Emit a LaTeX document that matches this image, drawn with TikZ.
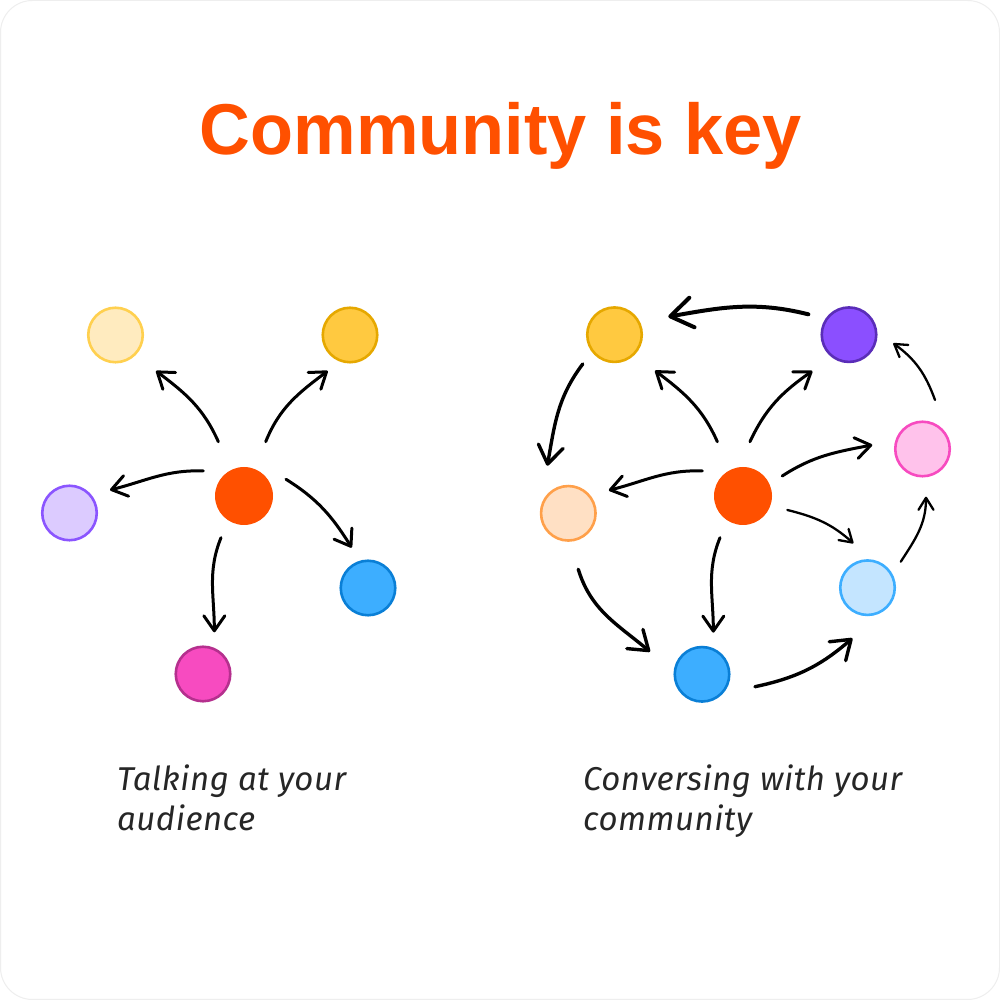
\documentclass[tikz,border=0pt]{standalone}
\usepackage{fontspec}
\setmainfont{Liberation Sans}
\newfontfamily\titlefont{Liberation Sans}
\newfontfamily\hand{Fira Sans}[LetterSpace=1.5]
\usetikzlibrary{arrows.meta,calc}
\definecolor{corange}{HTML}{FF5000}
\definecolor{lyF}{HTML}{FFEBBF}\definecolor{lyD}{HTML}{FFD04F}
\definecolor{yF}{HTML}{FFC940}\definecolor{yD}{HTML}{E6A800}
\definecolor{lvF}{HTML}{DCCBFF}\definecolor{lvD}{HTML}{8B55FF}
\definecolor{bF}{HTML}{3DAEFF}\definecolor{bD}{HTML}{0A7FD6}
\definecolor{mF}{HTML}{F74BC0}\definecolor{mD}{HTML}{B5308E}
\definecolor{pF}{HTML}{8B4FFF}\definecolor{pD}{HTML}{5A2DB8}
\definecolor{pkF}{HTML}{FFC2EB}\definecolor{pkD}{HTML}{F74BC0}
\definecolor{peF}{HTML}{FFE0C4}\definecolor{peD}{HTML}{FFA04A}
\definecolor{lbF}{HTML}{C4E5FF}\definecolor{lbD}{HTML}{3DAEFF}
\definecolor{frame}{HTML}{EEEEEE}
\begin{document}
\begin{tikzpicture}[x=1pt,y=1pt,
  dot/.style={circle,minimum size=54.5pt,inner sep=0pt,line width=2.6pt},
  hub/.style={circle,minimum size=58pt,inner sep=0pt,fill=corange},
  arr/.style={line width=3pt,line cap=round,-{Straight Barb[length=15pt,width=21pt,line cap=round,line join=round]}},
  bigarr/.style={line width=4pt,line cap=round,-{Straight Barb[length=22pt,width=30pt,line cap=round,line join=round]}},
  midarr/.style={line width=3.4pt,line cap=round,-{Straight Barb[length=18pt,width=25pt,line cap=round,line join=round]}},
  thinarr/.style={line width=2.3pt,line cap=round,-{Straight Barb[length=12pt,width=15pt,line cap=round,line join=round]}},
  lab/.style={anchor=north west,align=left,inner sep=0pt,font=\hand\itshape\fontsize{33}{40}\selectfont,text=black!85}
]
\useasboundingbox (0,0) rectangle (1000,1000);
\draw[frame,line width=1pt,fill=white,rounded corners=32pt] (0.5,0.5) rectangle (999.5,999.5);

\node[anchor=base,text=corange,font=\titlefont\bfseries\fontsize{72}{80}\selectfont] (title) at (501,845.5) {\scalebox{0.977}[1]{Community is key}};

% left diagram
\node[hub] (o1) at (244,504) {};
\node[dot,fill=lyF,draw=lyD] (ly) at (115.5,665) {};
\node[dot,fill=yF,draw=yD] (y1) at (350,665) {};
\node[dot,fill=lvF,draw=lvD] (lv) at (69.5,487) {};
\node[dot,fill=bF,draw=bD] (b1) at (368,412) {};
\node[dot,fill=mF,draw=mD] (m1) at (203,326) {};

\draw[arr] ($(o1)+(115.3:60)$) to[out=114,in=-37] ($(ly)+(-41.6:54.2)$);
\draw[arr] ($(o1)+(68.2:58.5)$) to[out=68,in=-143] ($(y1)+(-121.8:42.3)$);
\draw[arr] ($(o1)+(148.4:47.8)$) to[out=178,in=14] ($(lv)+(29.6:46.6)$);
\draw[arr] ($(o1)+(21.7:45.2)$) to[out=-32,in=122] ($(b1)+(112:43.5)$);
\draw[arr] ($(o1)+(-118.9:47.6)$) to[out=-112,in=90] ($(m1)+(74.8:43.2)$);

\node[lab] (lab1) at (117,235) {Talking at your\\audience};

% right diagram
\node[hub] (o2) at (743,504) {};
\node[dot,fill=yF,draw=yD] (y2) at (614.5,665.3) {};
\node[dot,fill=pF,draw=pD] (p2) at (849,665.3) {};
\node[dot,fill=pkF,draw=pkD] (pk) at (922.5,551) {};
\node[dot,fill=peF,draw=peD] (pe) at (568.3,486.7) {};
\node[dot,fill=lbF,draw=lbD] (lb) at (867.5,412.3) {};
\node[dot,fill=bF,draw=bD] (b2) at (702,325.7) {};

\draw[arr] ($(o2)+(115.3:60)$) to[out=114,in=-37] ($(y2)+(-41.6:54.2)$);
\draw[arr] ($(o2)+(82.7:54.7)$) to[out=65,in=-145] ($(p2)+(-135.3:51.6)$);
\draw[arr] ($(o2)+(148.4:47.8)$) to[out=178,in=14] ($(pe)+(29.6:46.6)$);
\draw[arr] ($(o2)+(27:44)$) to[out=33,in=-169] ($(pk)+(175.4:50.4)$);
\draw[thinarr] ($(o2)+(-17.5:46.5)$) to[out=-14,in=138] ($(lb)+(107.7:46.6)$);
\draw[arr] ($(o2)+(-118.9:47.6)$) to[out=-112,in=90] ($(b2)+(74.8:43.2)$);

\draw[bigarr] ($(p2)+(153.4:45.5)$) to[out=166,in=10] ($(y2)+(18.5:56.7)$);
\draw[midarr] ($(y2)+(-137.3:43.2)$) to[out=-127,in=80] ($(pe)+(113.8:52)$);
\draw[midarr] ($(pe)+(-79.9:56.9)$) to[out=-73,in=140] ($(b2)+(156.5:56.7)$);
\draw[midarr] ($(b2)+(-13.2:54.4)$) to[out=12,in=-139] ($(lb)+(-106.7:52.8)$);
\draw[thinarr] ($(lb)+(38:42.2)$) to[out=57,in=-90] ($(pk)+(-85.8:47.8)$);
\draw[thinarr] ($(pk)+(75.7:50.6)$) to[out=110,in=-36] ($(p2)+(-11:45.1)$);

\node[lab] (lab2) at (583,235) {Conversing with your\\community};
\end{tikzpicture}
\end{document}
